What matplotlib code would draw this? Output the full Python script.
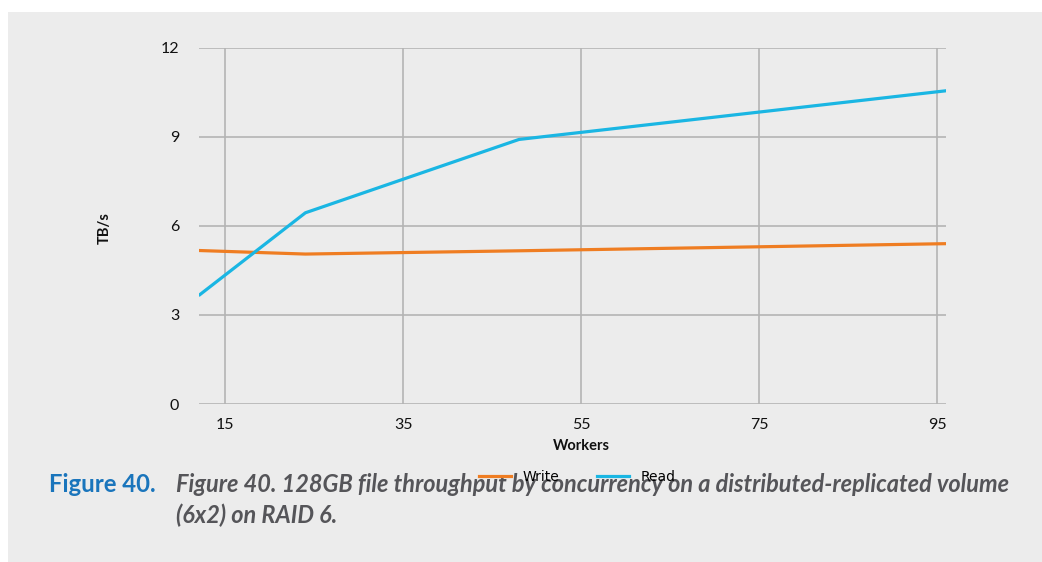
import matplotlib
matplotlib.use("Agg")
import matplotlib.pyplot as plt
from matplotlib.lines import Line2D

# ---- data ----
workers = [12, 24, 48, 96]
write_tbs = [5.17, 5.05, 5.16, 5.40]
read_tbs = [3.65, 6.44, 8.91, 10.55]
x_ticks = [15, 35, 55, 75, 95]
y_ticks = [0, 3, 6, 9, 12]
series_names = ["Write", "Read"]
caption_label = "Figure 40."
caption_line1 = "Figure 40. 128GB file throughput by concurrency on a distributed-replicated volume"
caption_line2 = "(6x2) on RAID 6."

W, H = 1042, 562
BG = "#ececec"
ORANGE = "#ef7d22"
CYAN = "#1ab6e3"
GRID = "#b4b4b4"

fig = plt.figure(figsize=(W / 100, H / 100), dpi=100, facecolor="white")
# grey panel
fig.patches.append(plt.Rectangle((8 / W, 0), 1 - 8 / W, 1 - 12 / H,
                                 transform=fig.transFigure, facecolor=BG,
                                 edgecolor="none", zorder=-10))

ax = fig.add_axes([198.6 / W, (H - 404) / H, (946.2 - 198.6) / W, (404 - 47.7) / H])
ax.set_zorder(1)
ax.patch.set_alpha(0)
for s in ax.spines.values():
    s.set_visible(False)

ax.plot(workers, write_tbs, color=ORANGE, lw=2.3, solid_capstyle="butt", zorder=3)
ax.plot(workers, read_tbs, color=CYAN, lw=2.3, solid_capstyle="butt", zorder=3)

ax.set_xlim(12, 96)
ax.set_ylim(0, 12)
ax.set_xticks(x_ticks)
ax.set_yticks(y_ticks)
ax.grid(True, color=GRID, lw=1.2)
ax.set_axisbelow(True)
ax.tick_params(length=0, labelsize=11.5, colors="#111111")
ax.tick_params(axis="y", pad=14)
ax.tick_params(axis="x", pad=10)
for lab in ax.get_xticklabels() + ax.get_yticklabels():
    lab.set_fontfamily("Lato")

fig.text(581 / W, 1 - 445.7 / H, "Workers", ha="center", va="center",
         fontsize=10.5, fontweight="bold", family="Lato", color="#111111")
fig.text(105 / W, 1 - 228 / H, "TB/s", ha="center", va="center", rotation=90,
         fontsize=10.5, fontweight="bold", family="Lato", color="#111111")

# caption
t0 = fig.text(49 / W, 1 - 485 / H, caption_label, ha="left", va="center",
              fontsize=16, fontweight="bold", family="Lato", color="#1a75bc")
t1 = fig.text(176 / W, 1 - 485 / H, caption_line1, ha="left", va="center",
              fontsize=16, fontweight="bold", style="italic", family="Lato",
              color="#555559")
t2 = fig.text(176 / W, 1 - 515 / H, caption_line2, ha="left", va="center",
              fontsize=16, fontweight="bold", style="italic", family="Lato",
              color="#555559")

fig.canvas.draw()
r = fig.canvas.get_renderer()
w0 = t0.get_window_extent(r).width
w1 = t1.get_window_extent(r).width
t0.set_fontsize(16 * 107 / w0)
fs1 = 16 * 836 / w1
t1.set_fontsize(fs1)
t2.set_fontsize(fs1)

handles = [Line2D([], [], color=ORANGE, lw=2.3), Line2D([], [], color=CYAN, lw=2.3)]
fig.legend(handles, series_names, loc="center left",
           bbox_to_anchor=(479 / W, 1 - 477 / H), ncol=2, frameon=False,
           fontsize=10, handlelength=2.3, handletextpad=0.85, columnspacing=2.7,
           borderpad=0, borderaxespad=0)

fig.savefig("out.png", dpi=100, facecolor="white")
